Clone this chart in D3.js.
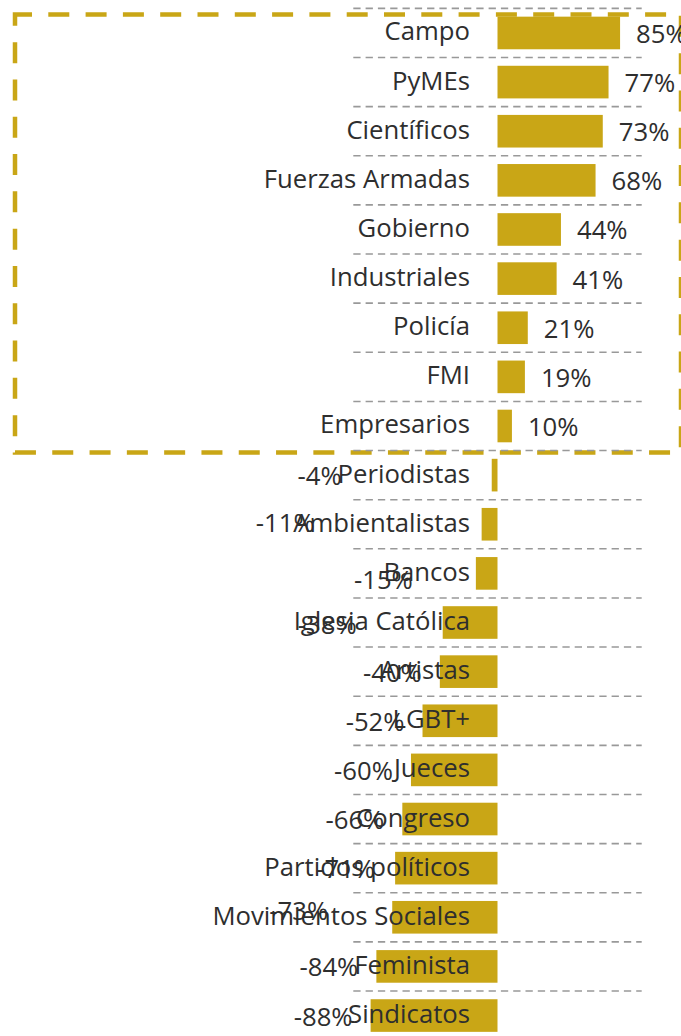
<!DOCTYPE html>
<html><head><meta charset="utf-8">
<script src="https://cdn.jsdelivr.net/npm/d3@7"></script>
<style>html,body{margin:0;padding:0;background:#fff;overflow:hidden}svg{display:block}</style>
</head><body>
<svg id="chart" width="681" height="1036"></svg>
<script>
// ---- data ----
const categories = ["Campo","PyMEs","Científicos","Fuerzas Armadas","Gobierno","Industriales","Policía","FMI","Empresarios","Periodistas","Ambientalistas","Bancos","Iglesia Católica","Artistas","LGBT+","Jueces","Congreso","Partidos políticos","Movimientos Sociales","Feminista","Sindicatos"];
const values = [85,77,73,68,44,41,21,19,10,-4,-11,-15,-38,-40,-52,-60,-66,-71,-73,-84,-88];
const valueDomain = [-100, 100];
// label nudges reproducing the original's overlapping value labels
const labelNudgeX = [0,0,0,0,0,0,0,0,0,-132,-149,-45,-68,0,0,0,0,-2,-46,0,0];
const labelNudgeY = [0,0,0,0,0,0,0,0,0,0,-2,6,1,0,0,0,0,0,-7,0,0];

const rows = categories.map((c,i)=>({cat:c, v:values[i], i}));

const gold = "#c9a616";
const ink = "#2e2e2e";
const FONT = "'Open Sans', 'Noto Sans', sans-serif";
const FS = 25.7;

const svg = d3.select("#chart");
const x = d3.scaleLinear().domain(valueDomain).range([353.3, 641.7]);
const y = d3.scaleBand().domain(categories).range([8.4, 1040.1]).paddingInner(0.336).paddingOuter(0.168);
const step = y.step();
const bw = y.bandwidth();

// highlight box around positive categories
const positives = rows.filter(d=>d.v>0);
const boxTop = y(positives[0].cat) - 2.2;
const boxBottom = y(positives[positives.length-1].cat) + bw + 10.2;
svg.append("rect")
  .attr("x", 15).attr("y", boxTop)
  .attr("width", 666).attr("height", boxBottom - boxTop)
  .attr("fill","none").attr("stroke", gold).attr("stroke-width", 4.5)
  .attr("stroke-dasharray","21,16.3").attr("stroke-dashoffset", 4);

// dashed separators
const r0 = y.range()[0];
svg.append("g").selectAll("line").data(d3.range(categories.length+1)).join("line")
  .attr("x1", x(valueDomain[0])).attr("x2", x(valueDomain[1]))
  .attr("y1", i=> r0 + i*step).attr("y2", i=> r0 + i*step)
  .attr("stroke","#999").attr("stroke-width",1.6).attr("stroke-dasharray","7.3,5");

// bars
svg.append("g").selectAll("rect").data(rows).join("rect")
  .attr("x", d=>Math.min(x(d.v), x(0)))
  .attr("width", d=>Math.abs(x(d.v)-x(0)))
  .attr("y", d=>y(d.cat)).attr("height", bw)
  .attr("fill", gold);

// category labels
svg.append("g").selectAll("text").data(rows).join("text")
  .attr("x", x(0) - 27.5)
  .attr("y", d=>y(d.cat) + bw/2 + 7.5)
  .attr("text-anchor","end")
  .attr("font-family", FONT).attr("font-size", FS).attr("fill", ink)
  .text(d=>d.cat);

// value labels
svg.append("g").selectAll("text").data(rows).join("text")
  .attr("x", d=> d.v>=0 ? x(d.v)+16 : x(d.v)-18 + labelNudgeX[d.i])
  .attr("y", d=> y(d.cat) + bw/2 + 10 + labelNudgeY[d.i])
  .attr("text-anchor", d=> d.v>=0 ? "start" : "end")
  .attr("font-family", FONT).attr("font-size", FS).attr("fill", ink)
  .text(d=> d.v + "%");
</script>
</body></html>
